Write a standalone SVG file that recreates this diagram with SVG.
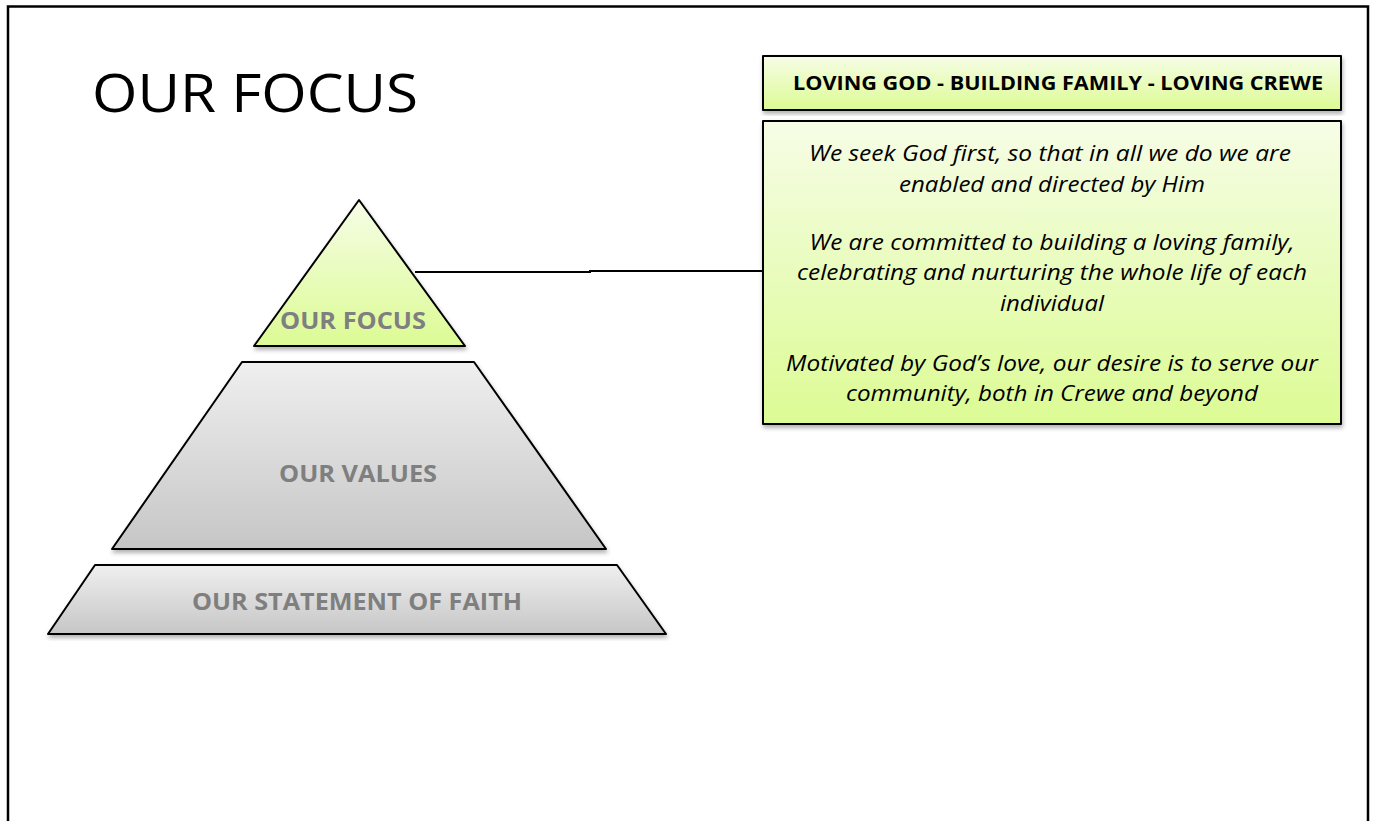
<svg xmlns="http://www.w3.org/2000/svg" width="1375" height="821" viewBox="0 0 1375 821">
<defs>
<linearGradient id="gGreen" x1="0" y1="0" x2="0" y2="1"><stop offset="0" stop-color="#f6fde6"/><stop offset="1" stop-color="#dcfb94"/></linearGradient>
<linearGradient id="gGray" x1="0" y1="0" x2="0" y2="1"><stop offset="0" stop-color="#efefef"/><stop offset="1" stop-color="#c6c6c6"/></linearGradient>
<filter id="sh" x="-5%" y="-5%" width="110%" height="115%"><feDropShadow dx="1" dy="3" stdDeviation="2" flood-color="#000" flood-opacity="0.3"/></filter>
<style>
.shape{stroke:#000;stroke-width:2;stroke-linejoin:round}
.lbl{font-family:"Open Sans","Liberation Sans",sans-serif;font-weight:bold;font-size:23.5px;fill:#7f7f7f;text-anchor:middle}
.body{font-family:"Open Sans","Liberation Sans",sans-serif;font-style:italic;font-size:22.5px;fill:#000;text-anchor:middle}
</style>
</defs>
<rect width="1375" height="821" fill="#fff"/>
<path d="M8,821 V6.5 H1368 V821" fill="none" stroke="#000" stroke-width="2.5"/>
<text x="92" y="112" font-family="'Open Sans','Liberation Sans',sans-serif" font-size="53" fill="#000" textLength="326" lengthAdjust="spacingAndGlyphs">OUR FOCUS</text>
<g id="connectors"><path d="M415,272 H590 V271 H763" fill="none" stroke="#000" stroke-width="2"/></g>
<g id="header"><rect x="763" y="56" width="578" height="54" class="shape" fill="url(#gGreen)" filter="url(#sh)"/>
<text x="1058" y="90" font-family="'Open Sans','Liberation Sans',sans-serif" font-weight="bold" font-size="19.5" text-anchor="middle" textLength="530" lengthAdjust="spacingAndGlyphs">LOVING GOD - BUILDING FAMILY - LOVING CREWE</text></g>
<g id="description"><rect x="763" y="121" width="578" height="303" class="shape" fill="url(#gGreen)" filter="url(#sh)"/>
<text class="body" x="1050" y="161" textLength="482" lengthAdjust="spacingAndGlyphs">We seek God first, so that in all we do we are</text>
<text class="body" x="1052" y="192" textLength="306" lengthAdjust="spacingAndGlyphs">enabled and directed by Him</text>
<text class="body" x="1052" y="250" textLength="485" lengthAdjust="spacingAndGlyphs">We are committed to building a loving family,</text>
<text class="body" x="1052" y="280" textLength="510" lengthAdjust="spacingAndGlyphs">celebrating and nurturing the whole life of each</text>
<text class="body" x="1052" y="311" textLength="104" lengthAdjust="spacingAndGlyphs">individual</text>
<text class="body" x="1052" y="371" textLength="532" lengthAdjust="spacingAndGlyphs">Motivated by God’s love, our desire is to serve our</text>
<text class="body" x="1052" y="401" textLength="412" lengthAdjust="spacingAndGlyphs">community, both in Crewe and beyond</text></g>
<g id="focus"><path d="M359,200 L465,346 L254,346 Z" class="shape" fill="url(#gGreen)" filter="url(#sh)"/>
<text class="lbl" x="353" y="329" textLength="146" lengthAdjust="spacingAndGlyphs">OUR FOCUS</text></g>
<g id="values"><path d="M242,362 L474,362 L606,549 L112,549 Z" class="shape" fill="url(#gGray)" filter="url(#sh)"/>
<text class="lbl" x="358" y="482" textLength="158" lengthAdjust="spacingAndGlyphs">OUR VALUES</text></g>
<g id="faith"><path d="M95,565 L617,565 L666,634 L48,634 Z" class="shape" fill="url(#gGray)" filter="url(#sh)"/>
<text class="lbl" x="357" y="610" textLength="330" lengthAdjust="spacingAndGlyphs">OUR STATEMENT OF FAITH</text></g>
</svg>
